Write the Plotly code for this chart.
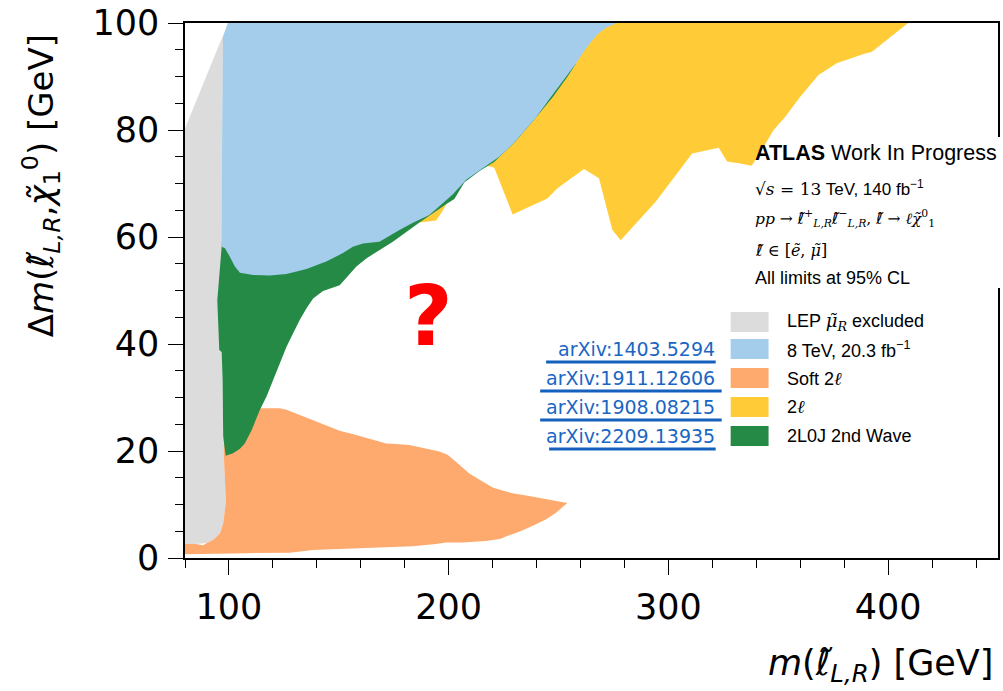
import plotly.graph_objects as go

# ---------------------------------------------------------------- data
# Excluded regions in the (slepton mass, mass splitting) plane, GeV.
lep_mass = [80.0, 80.0, 99.6, 97.3, 97.0, 96.8, 96.7, 97.1, 97.4, 98.6, 97.4,
            95.9, 92.8, 90.0, 85.0, 80.0]
lep_dm = [0.7, 80.3, 100.0, 97.4, 80.0, 58.2, 40.0, 33.3, 22.7, 10.5, 6.5,
          4.6, 3.4, 2.8, 2.6, 2.6]

run1_mass = [96.7, 98.2, 100.4, 102.7, 105.0, 111.0, 118.6, 126.2, 135.3,
             144.3, 151.9, 156.4, 161.0, 168.5, 177.6, 183.5, 191.2, 201.7,
             208.0, 216.2, 223.0, 229.8, 239.8, 246.6, 253.4, 258.0, 262.5,
             267.5, 271.6, 276.6, 99.5, 97.3, 96.9]
run1_dm = [58.2, 57.9, 56.3, 54.5, 53.3, 52.9, 52.8, 53.1, 54.0, 55.4, 57.0,
           58.2, 58.8, 59.1, 61.3, 62.6, 64.1, 67.9, 70.7, 73.1, 75.0, 77.6,
           82.4, 86.2, 89.9, 92.5, 95.3, 97.8, 99.1, 100.0, 100.0, 97.4, 80.0]

soft_mass = [80.0, 80.0, 85.0, 88.2, 90.0, 92.8, 95.9, 97.4, 98.6, 97.7, 97.3,
             114.8, 123.1, 126.2, 138.2, 150.4, 157.9, 171.6, 176.1, 182.1,
             195.8, 199.5, 203.3, 209.4, 215.4, 220.0, 224.5, 229.0, 236.6,
             247.2, 254.0, 248.7, 244.2, 238.1, 232.1, 226.0, 223.8, 217.0,
             206.3, 198.8, 194.3, 183.6, 168.5, 153.4, 138.2, 127.7, 108.0]
soft_dm = [0.7, 2.6, 2.6, 2.4, 2.8, 3.4, 4.6, 6.5, 10.5, 19.1, 28.0, 28.0,
           28.0, 27.7, 25.8, 23.8, 23.0, 21.4, 21.3, 21.1, 19.9, 19.3, 18.0,
           15.8, 14.3, 13.2, 12.6, 12.1, 11.6, 10.8, 10.3, 8.4, 7.2, 6.0, 4.9,
           4.0, 3.6, 3.2, 2.9, 2.9, 2.6, 2.2, 2.0, 1.8, 1.5, 1.0, 0.9]

twol_mass = [186.7, 194.3, 197.3, 199.0, 202.6, 207.1, 213.9, 217.0, 220.7,
             229.1, 244.9, 249.5, 261.6, 268.4, 274.5, 278.3, 294.2, 310.8,
             322.9, 326.7, 332.0, 337.9, 342.5, 347.9, 353.2, 360.0, 368.3,
             376.6, 389.5, 392.5, 409.1, 268.4, 186.7]
twol_dm = [62.7, 63.1, 64.9, 66.2, 67.5, 70.5, 72.5, 73.3, 73.0, 64.2, 67.2,
           69.1, 72.7, 71.0, 61.3, 59.4, 66.6, 75.6, 76.7, 74.1, 73.8, 73.3,
           76.3, 80.0, 82.5, 86.2, 90.3, 92.5, 94.3, 94.6, 100.0, 100.0, 66.9]

wave2_mass = [96.7, 95.9, 94.7, 95.6, 96.7, 97.1, 97.4, 98.5, 101.9, 105.0,
              107.2, 110.3, 114.1, 117.1, 120.1, 123.1, 126.2, 129.2, 132.2,
              135.3, 138.3, 142.8, 146.6, 150.4, 158.0, 162.5, 174.6, 186.7,
              199.5, 202.6, 207.1, 213.9, 220.7, 230.3, 240.3, 247.5, 254.3,
              258.0, 250.2, 177.6, 97.7]
wave2_dm = [58.2, 53.8, 48.2, 38.9, 38.5, 33.3, 22.7, 19.1, 19.6, 20.4, 21.4,
            23.9, 27.7, 30.2, 33.3, 36.4, 39.5, 42.0, 44.5, 46.7, 48.5, 49.9,
            50.4, 51.0, 54.5, 56.0, 59.1, 62.7, 66.3, 67.1, 70.2, 72.3, 74.0,
            77.8, 82.6, 86.2, 90.1, 92.5, 93.1, 76.3, 66.9]

series_names = ["LEP μ̃_R excluded", "8 TeV, 20.3 fb-1", "Soft 2l", "2l",
                "2L0J 2nd Wave"]
series_colors = ["#dcdcdc", "#a3cdeb", "#feaa6e", "#ffcc38", "#248a46"]
arxiv_refs = ["arXiv:1403.5294", "arXiv:1911.12606", "arXiv:1908.08215",
              "arXiv:2209.13935"]

x_ticks = [100, 200, 300, 400]
y_ticks = [0, 20, 40, 60, 80, 100]

# ---------------------------------------------------------------- layout helpers
W, H = 1003, 691
ML, MR, MT, MB = 185, 3, 23, 133
PW, PH = W - ML - MR, H - MT - MB


def px(x):
    """pixel column -> paper x"""
    return (x - ML) / PW


def py(y):
    """pixel row -> paper y"""
    return (H - MB - y) / PH


SERIF = "DejaVu Serif"
SANS = "Liberation Sans, Arial, sans-serif"
AXFONT = "DejaVu Sans"
# slepton symbol: script l with a tilde, set in a face that composes it cleanly
SLEP = "<span style='font-family:DejaVu Sans;font-style:italic'>ℓ̃</span>"

fig = go.Figure()

# draw order: LEP, soft 2l, 2l, 2L0J, 8 TeV
regions = [
    (lep_mass, lep_dm, 0),
    (soft_mass, soft_dm, 2),
    (twol_mass, twol_dm, 3),
    (wave2_mass, wave2_dm, 4),
    (run1_mass, run1_dm, 1),
]
for xs, ys, k in regions:
    fig.add_trace(go.Scatter(
        x=xs, y=ys, mode="lines", fill="toself",
        fillcolor=series_colors[k],
        line=dict(width=0, color=series_colors[k]),
        name=series_names[k], showlegend=False, hoverinfo="name",
    ))

axis_common = dict(
    showline=True, linecolor="black", linewidth=1.5, mirror=True,
    ticks="outside", tickcolor="black", tickwidth=1.2, ticklen=15,
    showgrid=False, zeroline=False,
    tickfont=dict(family=AXFONT, size=35, color="black"),
)
fig.update_xaxes(range=[80, 450], tickvals=x_ticks,
                 minor=dict(dtick=20, tick0=0, ticks="outside", ticklen=8,
                            tickcolor="black", tickwidth=1.2),
                 ticklabelstandoff=2, **axis_common)
fig.update_yaxes(range=[0, 100], tickvals=y_ticks,
                 minor=dict(dtick=5, tick0=0, ticks="outside", ticklen=8,
                            tickcolor="black", tickwidth=1.2),
                 ticklabelstandoff=2, **axis_common)

shapes = []
annotations = []

# white backing of the text block (hides the frame behind it)
shapes.append(dict(type="rect", xref="paper", yref="paper",
                   x0=px(776), x1=px(1003), y0=py(288), y1=py(137),
                   fillcolor="white", line=dict(width=0), layer="above"))

# axis titles
annotations.append(dict(
    text="Δ<i>m</i>(<i>ℓ̃</i><sub><i>L,R</i></sub>,<i>χ̃</i><sub>1</sub><sup>0</sup>) [GeV]",
    xref="paper", yref="paper", x=px(40), y=py(186), textangle=-90,
    xanchor="center", yanchor="middle", showarrow=False,
    font=dict(family=AXFONT, size=34, color="black")))
annotations.append(dict(
    text="<i>m</i>(<i>ℓ̃</i><sub><i>L,R</i></sub>) [GeV]",
    xref="paper", yref="paper", x=px(997), y=py(690),
    xanchor="right", yanchor="bottom", showarrow=False,
    font=dict(family=AXFONT, size=35, color="black")))

# experiment label block
info_lines = [
    ("<b>ATLAS</b> Work In Progress", 153, 21.5, SANS),
    ("<span style='font-family:DejaVu Serif'>√<i>s</i> = 13</span> TeV, 140 fb<sup>−1</sup>", 188, 17, SANS),
    ("<i>pp</i> → " + SLEP + "<sup>+</sup><sub><i>L,R</i></sub>" + SLEP
     + "<sup>−</sup><sub><i>L,R</i></sub>, " + SLEP + " → <i>ℓχ̃</i><sup>0</sup><sub>1</sub>",
     218, 15.5, SERIF),
    (SLEP + " ∈ [<i>ẽ</i>, <i>μ̃</i>]", 250, 16, SERIF),
    ("All limits at 95% CL", 278, 18, SANS),
]
for text, yc, size, fam in info_lines:
    annotations.append(dict(text=text, xref="paper", yref="paper",
                            x=px(754), y=py(yc), xanchor="left",
                            yanchor="middle", showarrow=False,
                            font=dict(family=fam, size=size, color="black")))

# legend
legend_rows = [322, 349, 378, 407, 436]
legend_labels = [
    "LEP <span style='font-family:DejaVu Serif'><i>μ̃</i><sub><i>R</i></sub></span> excluded",
    "8 TeV, 20.3 fb<sup>−1</sup>",
    "Soft 2<span style='font-family:DejaVu Serif'><i>ℓ</i></span>",
    "2<span style='font-family:DejaVu Serif'><i>ℓ</i></span>",
    "2L0J 2nd Wave",
]
for k, (yc, lab) in enumerate(zip(legend_rows, legend_labels)):
    shapes.append(dict(type="rect", xref="paper", yref="paper",
                       x0=px(732), x1=px(770), y0=py(yc + 10), y1=py(yc - 10),
                       fillcolor=series_colors[k], line=dict(width=0),
                       layer="above"))
    annotations.append(dict(text=lab, xref="paper", yref="paper",
                            x=px(786), y=py(yc), xanchor="left",
                            yanchor="middle", showarrow=False,
                            font=dict(family=SANS, size=18, color="black")))

# paper references next to the legend rows
link_blue = "#1a66c4"
for ref, yc in zip(arxiv_refs, legend_rows[1:]):
    annotations.append(dict(text=ref, xref="paper", yref="paper",
                            x=px(718), y=py(yc), xanchor="right",
                            yanchor="middle", showarrow=False,
                            font=dict(family=AXFONT, size=19, color=link_blue)))
underline_spans = [(547, 717), (541, 723), (541, 723), (550, 717)]
for (x0, x1), yc in zip(underline_spans, legend_rows[1:]):
    shapes.append(dict(type="line", xref="paper", yref="paper",
                       x0=px(x0), x1=px(x1), y0=py(yc + 13), y1=py(yc + 13),
                       line=dict(color="#1560bd", width=3.2), layer="above"))

# open question in the uncovered region
annotations.append(dict(text="<b>?</b>", xref="paper", yref="paper",
                        x=px(429), y=py(316), xanchor="center",
                        yanchor="middle", showarrow=False,
                        font=dict(family="DejaVu Sans", size=84, color="red")))

fig.update_layout(
    width=W, height=H,
    margin=dict(l=ML, r=MR, t=MT, b=MB, pad=0),
    paper_bgcolor="white", plot_bgcolor="white",
    shapes=shapes, annotations=annotations,
    showlegend=False,
)

fig.write_html("out.html")
